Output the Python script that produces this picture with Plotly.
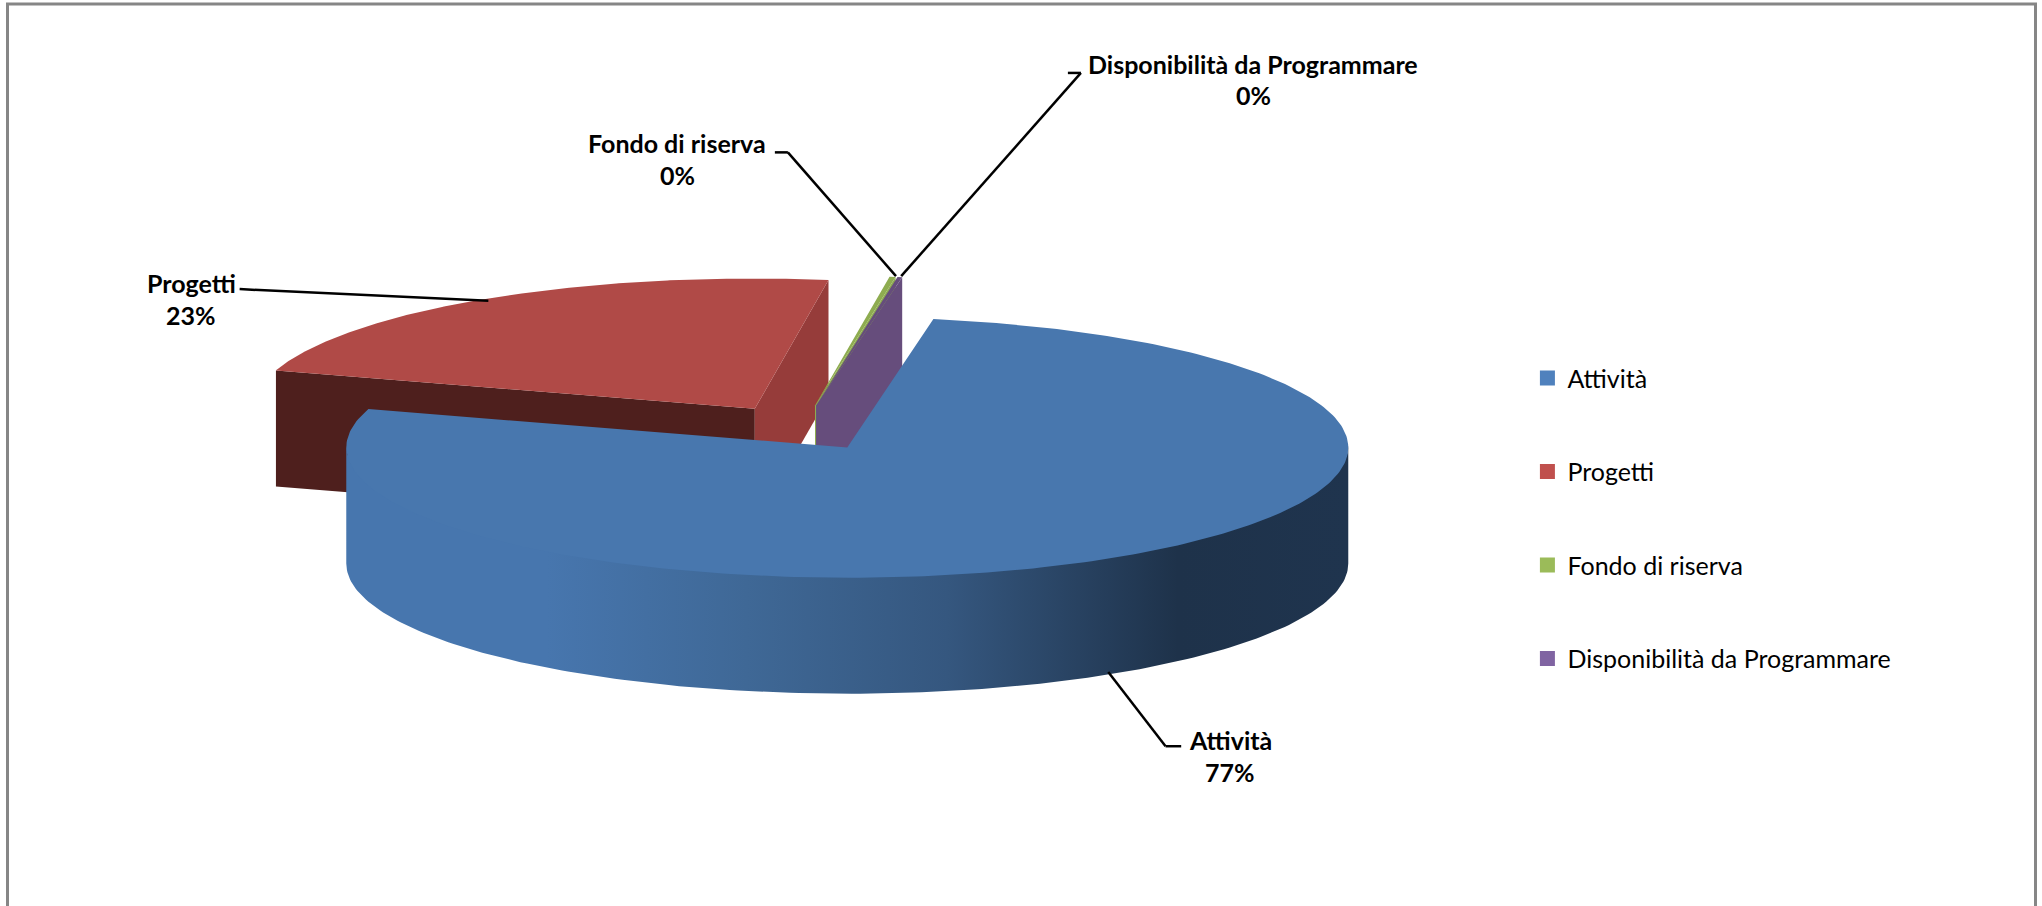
import numpy as np
import plotly.graph_objects as go

categories = ["Attività", "Progetti", "Fondo di riserva", "Disponibilità da Programmare"]
shares = [77.0, 22.6, 0.22, 0.18]
legend_colors = ["#4F81BD", "#C0504D", "#9BBB59", "#8064A2"]
top_colors = ["#4877AE", "#B04A47", "#8EAC50", "#664D7C"]
start_wall_colors = ["#2A4768", "#4E1F1D", "#566B2E", "#664D7C"]
end_wall_colors = ["#2A4768", "#963C3A", "#8EAC50", "#664D7C"]
label_percents = ["77%", "23%", "0%", "0%"]

W, H = 2042, 906
CX, CY = 801.5, 428.0      # pie centre before explosion
R, SQUASH, DEPTH = 501.0, 0.26, 116.0
EXPLODE = 87.6
FIRST_ANGLE = 9.9


def pt(ang, r=R, ox=0.0, oy=0.0):
    a = np.radians(ang)
    return ox + r * np.sin(a), oy - r * np.cos(a) * SQUASH


fig = go.Figure()
total = sum(shares)
bounds = []
a0 = FIRST_ANGLE
for s in shares:
    bounds.append((a0, a0 + s / total * 360))
    a0 += s / total * 360
offsets = []
for a, b in bounds:
    ex, ey = pt((a + b) / 2, EXPLODE, CX, CY)
    offsets.append((ex, ey))


def poly(xs, ys, color, **kw):
    fig.add_trace(go.Scatter(x=list(xs), y=list(ys), mode="lines", fill="toself",
                             line=dict(width=0), fillcolor=color, showlegend=False,
                             hoverinfo="skip", **kw))


def draw_slice(i):
    a, b = bounds[i]
    ox, oy = offsets[i]
    if np.sin(np.radians(a)) < 0:
        x, y = pt(a, R, ox, oy)
        poly([ox, x, x, ox], [oy, y, y + DEPTH, oy + DEPTH], start_wall_colors[i])
    if np.sin(np.radians(b)) > 0:
        x, y = pt(b, R, ox, oy)
        poly([ox, x, x, ox], [oy, y, y + DEPTH, oy + DEPTH], end_wall_colors[i])
    # outer wall: the part of the arc that faces the viewer
    lo, hi = max(a, 90), min(b, 270)
    if hi > lo:
        th = np.linspace(lo, hi, 180)
        x, y = pt(th, R, ox, oy)
        fig.add_trace(go.Scatter(
            x=np.r_[x, x[::-1]], y=np.r_[y - 2, y[::-1] + DEPTH], mode="lines", fill="toself",
            line=dict(width=0), showlegend=False, hoverinfo="skip",
            fillgradient=dict(type="horizontal", colorscale=[
                [0.0, "#4776AE"], [0.2, "#4776AE"], [0.4, "#3F6896"], [0.6, "#35577F"],
                [0.83, "#1E324A"], [1.0, "#1F344E"]])))
    th = np.linspace(a, b, 300)
    x, y = pt(th, R, ox, oy)
    poly(np.r_[ox, x, ox], np.r_[oy, y, oy], top_colors[i])


for i in [1, 2, 3, 0]:
    draw_slice(i)

# legend entries
for name, col in zip(categories, legend_colors):
    fig.add_trace(go.Scatter(x=[None], y=[None], mode="markers", name=name, legendgroup=name,
                             marker=dict(symbol="square", size=15, color=col)))

S = 1.3023  # helper: leader lines and labels were read at 1568 px wide
leaders = [
    [(907, 573), (895, 573), (851, 516)],
    [(184, 222), (375, 231)],
    [(595, 117), (605, 117), (688, 212)],
    [(820, 56), (830, 56), (692, 212)],
]
label_pos = [(944.5, 568, 593), (147, 217, 242), (520, 110, 134), (962.5, 49, 73)]
for seg in leaders:
    for (x0, y0), (x1, y1) in zip(seg[:-1], seg[1:]):
        fig.add_shape(type="line", xref="x", yref="y", x0=x0 * S, y0=y0 * S, x1=x1 * S, y1=y1 * S,
                      line=dict(color="#000000", width=2.5))
font_lbl = dict(family="Lato", size=25, color="#000000")
for name, pct, (lx, ly1, ly2) in zip(categories, label_percents, label_pos):
    fig.add_annotation(x=lx * S, y=ly1 * S, text="<b>%s</b>" % name, showarrow=False, font=font_lbl)
    fig.add_annotation(x=lx * S, y=ly2 * S, text="<b>%s</b>" % pct, showarrow=False, font=font_lbl)

fig.add_shape(type="rect", xref="x", yref="y", x0=7.5, y0=4, x1=2035.5, y1=930,
              line=dict(color="#868686", width=3))

fig.update_layout(
    width=W, height=H, margin=dict(l=0, r=0, t=0, b=0),
    paper_bgcolor="#FFFFFF", plot_bgcolor="#FFFFFF",
    xaxis=dict(range=[0, W], visible=False, fixedrange=True),
    yaxis=dict(range=[H, 0], visible=False, fixedrange=True),
    legend=dict(x=0.748, y=0.608, xanchor="left", yanchor="top", tracegroupgap=58,
                font=dict(family="Lato", size=25, color="#000000"), itemwidth=30,
                bgcolor="rgba(0,0,0,0)"),
)
fig.write_html("out.html", post_script="document.body.style.margin='0';",
               config=dict(displayModeBar=False))
